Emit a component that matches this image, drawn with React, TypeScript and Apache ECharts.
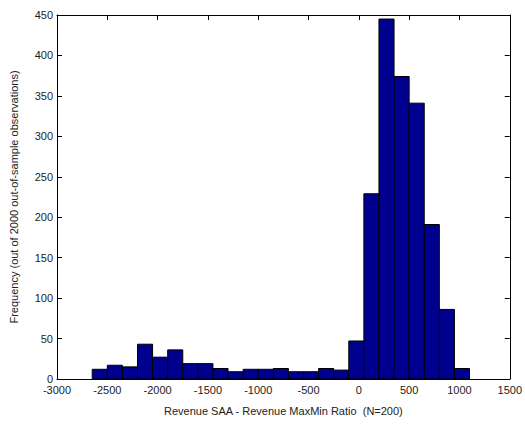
import React, { useEffect, useRef } from "react";
import * as echarts from "echarts";

const binStart = -2650;
const binWidth = 150;
const counts = [12, 17, 15, 43, 27, 36, 19, 19, 13, 9, 12, 12, 13, 9, 9, 13, 11, 47, 229, 445, 374, 341, 191, 86, 13];
const xTicks = [-3000, 1500, 500];
const yTicks = [0, 450, 50];
const xLabel = "Revenue SAA - Revenue MaxMin Ratio  (N=200)";
const yLabel = "Frequency (out of 2000 out-of-sample observations)";

export default function App() {
  const ref = useRef<HTMLDivElement>(null);
  useEffect(() => {
    if (!ref.current) return;
    const chart = echarts.init(ref.current, null, { renderer: "svg" });
    const data = counts.map((c, i) => [binStart + i * binWidth, binStart + (i + 1) * binWidth, c]);
    const font = { fontFamily: "Liberation Sans, Arial, sans-serif", fontSize: 11, color: "#222" };
    const plain = (v: number) => String(v);
    const axisCommon = {
      axisLine: { show: true, onZero: false, lineStyle: { color: "#000", width: 1 } },
      axisTick: { show: true, inside: true, length: 5, lineStyle: { color: "#000" } },
      splitLine: { show: false },
    };
    chart.setOption({
      animation: false,
      grid: { left: 54, right: 8, top: 15, bottom: 46, containLabel: false },
      xAxis: [
        {
          type: "value", min: xTicks[0], max: xTicks[1], interval: xTicks[2],
          ...axisCommon,
          axisLabel: { ...font, margin: 5, formatter: plain },
          name: xLabel, nameLocation: "middle", nameGap: 26,
          nameTextStyle: { ...font },
        },
        {
          type: "value", position: "top", min: xTicks[0], max: xTicks[1], interval: xTicks[2],
          ...axisCommon, axisLabel: { show: false },
        },
      ],
      yAxis: [
        {
          type: "value", min: yTicks[0], max: yTicks[1], interval: yTicks[2],
          ...axisCommon,
          axisLabel: { ...font, margin: 4, formatter: plain, padding: [0, 0, 6, 0] },
          name: yLabel, nameLocation: "middle", nameGap: 38,
          nameTextStyle: { ...font },
        },
        {
          type: "value", position: "right", min: yTicks[0], max: yTicks[1], interval: yTicks[2],
          ...axisCommon, axisLabel: { show: false },
        },
      ],
      series: [
        {
          type: "custom",
          xAxisIndex: 0,
          yAxisIndex: 0,
          data,
          encode: { x: [0, 1], y: 2 },
          renderItem: (params: any, api: any) => {
            const p0 = api.coord([api.value(0), 0]);
            const p1 = api.coord([api.value(1), api.value(2)]);
            return {
              type: "rect",
              shape: { x: p0[0], y: p1[1], width: p1[0] - p0[0], height: p0[1] - p1[1] },
              style: { fill: "#00008f", stroke: "#000", lineWidth: 1 },
            };
          },
        },
      ],
    });
    return () => chart.dispose();
  }, []);
  return (
    <div
      ref={ref}
      style={{ position: "fixed", left: 0, top: 0, width: 525, height: 425, background: "#fff" }}
    />
  );
}
